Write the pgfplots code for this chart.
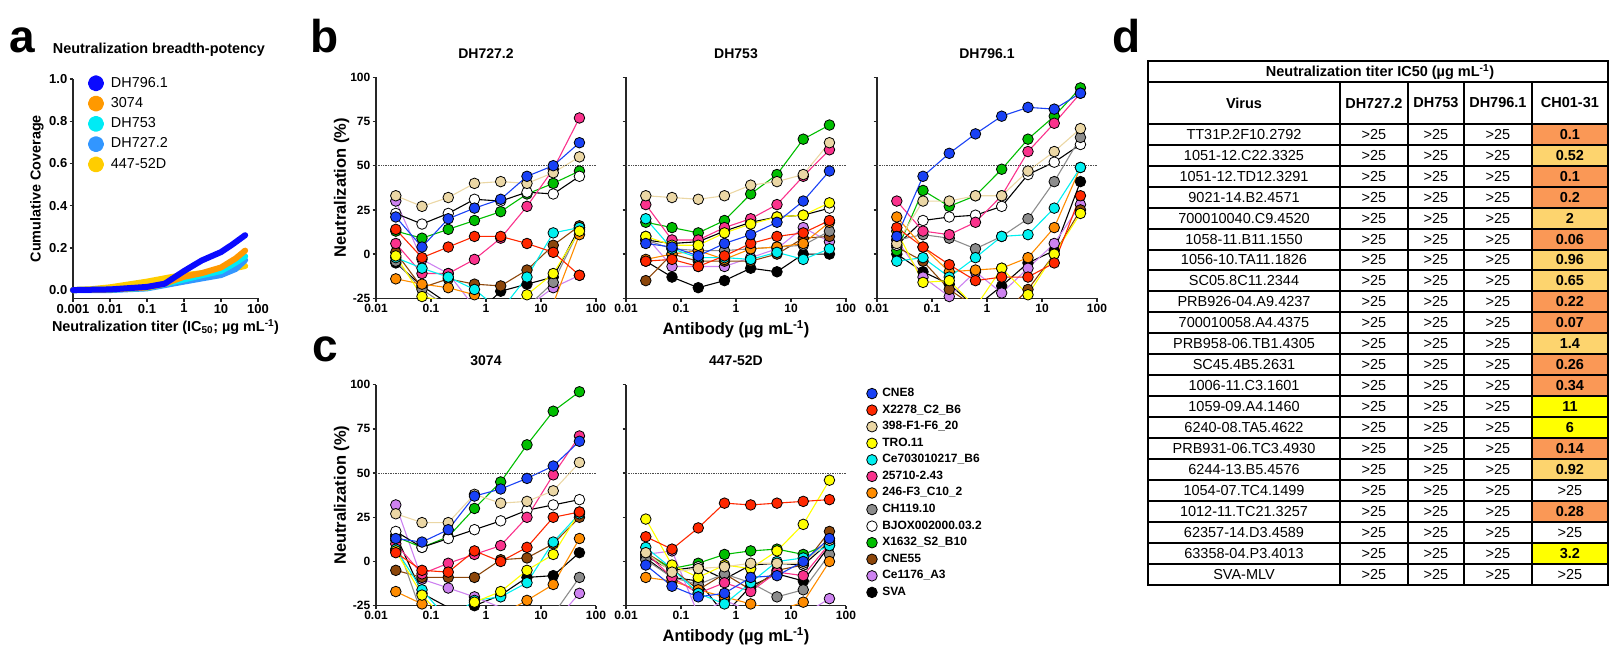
\documentclass[border=0pt]{standalone}
\usepackage{pgfplots}
\pgfplotsset{compat=1.18}
\usepackage{pgfplotstable}
\usepackage{fontspec}
\setmainfont{Liberation Sans}

\definecolor{cCNE8}{RGB}{25,65,245}
\definecolor{cRed}{RGB}{255,40,0}
\definecolor{cTan}{RGB}{235,215,165}
\definecolor{cYel}{RGB}{255,255,0}
\definecolor{cCya}{RGB}{0,240,240}
\definecolor{cPink}{RGB}{250,50,140}
\definecolor{cOra}{RGB}{255,140,0}
\definecolor{cGray}{RGB}{140,140,140}
\definecolor{cGrn}{RGB}{0,190,0}
\definecolor{cBrn}{RGB}{140,70,10}
\definecolor{cVio}{RGB}{205,130,240}
\definecolor{aBlue}{RGB}{10,10,255}
\definecolor{aOra}{RGB}{255,153,0}
\definecolor{aCya}{RGB}{0,235,245}
\definecolor{aLbl}{RGB}{50,150,255}
\definecolor{aYel}{RGB}{255,205,0}
\definecolor{tOr}{RGB}{250,152,86}
\definecolor{tLt}{RGB}{253,212,110}
\definecolor{tYe}{RGB}{255,255,0}

\pgfplotstableread{
c cne8 xtt tan tro cey pink ora gray bjox grn brn vio sva
0.0229 21 14 33 -1 -2 6 -14 -4 23 13 1 30 -5
0.0686 4 -2 27 -24 -8 -11 -17 -20 17 9 -19 -3 -18
0.206 20 4 32 -27 -13 -11 -19 -30 23 14 -14 -11 -28
0.617 26 10 40 -35 -20 -3 -23 -35 31 19 -17 -30 -35
1.85 31 10 41 -35 -32 9 -35 -35 30 24 -18 -35 -21
5.56 44 6 40 -23 -13 27 -40 -30 35 34 -9 -30 -17
16.7 50 1 46 -11 12 48 -28 -16 34 40 5 -19 -13
50 63 -12 55 13 15 77 11 14 44 47 16 -12 15
}\tbA
\pgfplotstableread{
c cne8 xtt tan tro cey pink ora gray bjox grn brn vio sva
0.0229 6 -4 33 10 20 28 -3 8 8 18 -15 10 -4
0.0686 4 -3 32 5 3 8 0 3 6 15 0 -7 -13
0.206 -1 -7 31 5 -2 8 2 2 7 12 -4 -7 -19
0.617 6 -1 33 12 -2 15 -3 2 13 19 -4 -7 -15
1.85 11 6 39 17 -3 20 3 3 18 34 -4 -2 -8
5.56 18 10 41 21 1 28 4 4 21 45 0 3 -10
16.7 30 12 45 22 -3 44 6 5 22 65 9 15 0
50 47 19 63 29 3 59 18 13 26 73 10 7 0
}\tbB
\pgfplotstableread{
c cne8 xtt tan tro cey pink ora gray bjox grn brn vio sva
0.0229 10 15 6 13 -4 30 21 8 5 2 4 8 0
0.0686 44 4 30 -16 -2 13 4 11 19 36 -4 -13 -10
0.206 57 -6 30 -15 -13 11 -10 9 21 27 -20 -24 -17
0.617 68 -15 33 -30 -2 18 -9 3 22 33 -30 -10 -30
1.85 78 -13 33 -8 10 33 -8 10 27 48 -35 -22 -18
5.56 83 -13 47 -23 11 58 -2 20 45 65 -20 -8 -5
16.7 82 -5 58 0 26 74 15 41 52 78 0 6 2
50 91 33 71 23 49 91 49 66 62 94 25 28 41
}\tbC
\pgfplotstableread{
c cne8 xtt tan tro cey pink ora gray bjox grn brn vio sva
0.0229 13 5 27 6 7 10 -17 12 17 14 -5 32 15
0.0686 11 -5 22 -19 -16 -7 -24 -30 8 8 -9 -10 -18
0.206 18 -6 22 -35 -33 -1 -30 -35 13 14 -9 -15 -26
0.617 37 6 38 -23 -22 4 -32 -40 18 30 -9 -20 -25
1.85 41 0 33 -17 -20 9 -30 -40 23 45 1 -26 -19
5.56 47 8 34 -5 -12 25 -22 -40 29 66 2 -35 -9
16.7 54 25 40 4 11 49 -13 -30 32 85 10 -35 -8
50 68 28 56 28 27 71 13 -9 35 96 25 -18 5
}\tbD
\pgfplotstableread{
c cne8 xtt tan tro cey pink ora gray bjox grn brn vio sva
0.0229 -2 14 5 24 8 5 -9 1 3 4 5 4 2
0.0686 -14 7 -6 -2 -4 -9 -11 -9 -5 -4 -4 6 -9
0.206 -20 19 -4 -9 -18 -18 -16 -13 -3 -1 -16 -30 -11
0.617 -18 33 -3 -2 -24 -12 -20 -7 -10 4 -7 -22 -30
1.85 -9 32 -1 -4 -12 -17 -24 -12 -2 6 -16 -28 -14
5.56 -8 33 -1 6 0 -6 -28 -20 -1 7 -5 -30 -7
16.7 0 34 -1 21 2 -8 -23 -16 -2 4 -2 -30 -11
50 13 35 12 46 9 10 0 4 11 10 17 -21 9
}\tbE

% drawing order (bottom to top) = reverse of legend order
\pgfplotscreateplotcyclelist{vir}{%
black,line width=1.1pt,mark=*,mark size=5.3pt,mark options={solid,draw=black,line width=0.8pt,fill=black}\\%
cVio,line width=1.1pt,mark=*,mark size=5.3pt,mark options={solid,draw=black,line width=0.8pt,fill=cVio}\\%
cBrn,line width=1.1pt,mark=*,mark size=5.3pt,mark options={solid,draw=black,line width=0.8pt,fill=cBrn}\\%
cGrn,line width=1.1pt,mark=*,mark size=5.3pt,mark options={solid,draw=black,line width=0.8pt,fill=cGrn}\\%
black,line width=1.1pt,mark=*,mark size=5.3pt,mark options={solid,draw=black,line width=0.8pt,fill=white}\\%
cGray,line width=1.1pt,mark=*,mark size=5.3pt,mark options={solid,draw=black,line width=0.8pt,fill=cGray}\\%
cOra,line width=1.1pt,mark=*,mark size=5.3pt,mark options={solid,draw=black,line width=0.8pt,fill=cOra}\\%
cPink,line width=1.1pt,mark=*,mark size=5.3pt,mark options={solid,draw=black,line width=0.8pt,fill=cPink}\\%
cCya,line width=1.1pt,mark=*,mark size=5.3pt,mark options={solid,draw=black,line width=0.8pt,fill=cCya}\\%
cYel,line width=1.1pt,mark=*,mark size=5.3pt,mark options={solid,draw=black,line width=0.8pt,fill=cYel}\\%
cTan,line width=1.1pt,mark=*,mark size=5.3pt,mark options={solid,draw=black,line width=0.8pt,fill=cTan}\\%
cRed,line width=1.1pt,mark=*,mark size=5.3pt,mark options={solid,draw=black,line width=0.8pt,fill=cRed}\\%
cCNE8,line width=1.1pt,mark=*,mark size=5.3pt,mark options={solid,draw=black,line width=0.8pt,fill=cCNE8}\\%
}

\pgfplotsset{
  dotleg/.style={legend image code/.code={\fill[##1] (5pt,0pt) circle (5pt);}},
  markleg/.style={legend image code/.code={\draw[##1, only marks] plot coordinates {(5.3pt,0pt)};}},
}

\begin{document}
\begin{tikzpicture}[x=1pt,y=1pt]
\useasboundingbox (0,0) rectangle (1609,654);

% panel letters
\node[anchor=base, font=\bfseries\fontsize{46}{46}\selectfont, inner sep=0] at (22,601) {a};
\node[anchor=base, font=\bfseries\fontsize{46}{46}\selectfont, inner sep=0] at (325,601) {b};
\node[anchor=base, font=\bfseries\fontsize{46}{46}\selectfont, inner sep=0] at (325,292) {c};
\node[anchor=base, font=\bfseries\fontsize{46}{46}\selectfont, inner sep=0] at (1127,601) {d};

% ---------------- panel a
\begin{axis}[at={(73pt,355.7pt)}, anchor=south west,
  scale only axis, width=185pt, height=219.3pt,
  xmode=log, xmin=0.001, xmax=100, ymin=-0.039, ymax=1, clip=false,
  axis lines=left, axis line style={-, line width=1.3pt, black!85},
  xtick={0.001,0.01,0.1,1,10,100}, xticklabels={0.001,0.01,0.1,1,10,100},
  ytick={0,0.2,0.4,0.6,0.8,1}, yticklabels={0.0,0.2,0.4,0.6,0.8,1.0},
  xminorticks=false,
  tick style={line width=1.3pt, black!85}, tick align=outside, major tick length=3.5pt,
  tick label style={font=\bfseries\fontsize{13}{13}\selectfont, inner sep=2pt},
  title={Neutralization breadth-potency},
  title style={at={(0.5,1)}, anchor=base, yshift=19pt, xshift=-6.5pt, font=\bfseries\fontsize{14.4}{14.4}\selectfont},
  xlabel={Neutralization titer (IC\textsubscript{50}; µg mL\textsuperscript{-1})},
  xlabel style={at={(0.5,0)}, anchor=base, yshift=-33.4pt, font=\bfseries\fontsize{14.4}{14.4}\selectfont},
  ylabel={Cumulative Coverage},
  ylabel style={at={(axis description cs:0,0.5)}, anchor=center, yshift=36pt, font=\bfseries\fontsize{14.4}{14.4}\selectfont},
  reverse legend,
  legend cell align=left,
  dotleg,
  legend style={at={(axis description cs:0.081,1.017)}, anchor=north west, draw=none, fill=none,
    inner sep=0pt, outer sep=0pt, row sep=4.3pt,
    font=\fontsize{14.4}{14.4}\selectfont,
    nodes={inner sep=0pt, text height=10.5pt, text depth=3pt},
    /tikz/every odd column/.append style={column sep=7pt}},
]
\addplot[aYel, line width=6pt, line cap=round, line join=round] coordinates {(0.001,0.0) (0.003,0.004) (0.01,0.013) (0.1,0.04) (0.5,0.063) (1,0.07) (3,0.08) (10,0.095) (25,0.105) (45,0.114)};
\addplot[aLbl, line width=6pt, line cap=round, line join=round] coordinates {(0.001,0.0) (0.01,0.0) (0.1,0.008) (1,0.04) (3,0.055) (10,0.071) (25,0.1) (45,0.142)};
\addplot[aCya, line width=6pt, line cap=round, line join=round] coordinates {(0.001,0.0) (0.01,0.003) (0.1,0.01) (1,0.05) (3,0.07) (10,0.09) (25,0.13) (45,0.16)};
\addplot[aOra, line width=6pt, line cap=round, line join=round] coordinates {(0.001,0.0) (0.01,0.003) (0.1,0.012) (0.3,0.03) (1,0.063) (3,0.08) (10,0.107) (25,0.15) (45,0.187)};
\addplot[aBlue, line width=6pt, line cap=round, line join=round] coordinates {(0.001,0.0) (0.01,0.003) (0.1,0.015) (0.3,0.03) (1,0.09) (3,0.14) (10,0.18) (20,0.215) (45,0.26)};
\legend{447-52D, DH727.2, DH753, 3074, DH796.1}
\end{axis}

% ---------------- panel b : DH727.2
\begin{axis}[at={(376pt,355.7pt)}, anchor=south west,
  scale only axis, width=220pt, height=221pt,
  xmode=log, xmin=0.01, xmax=100, ymin=-25, ymax=100,
  axis lines=left, axis line style={-, line width=1.3pt, black!85},
  xtick={0.01,0.1,1,10,100}, xticklabels={0.01,0.1,1,10,100},
  ytick={-25,0,25,50,75,100}, yticklabels={-25,0,25,50,75,100},
  xminorticks=false,
  tick style={line width=1.3pt, black!85}, tick align=outside, major tick length=3.5pt,
  tick label style={font=\bfseries\fontsize{12}{12}\selectfont, inner sep=2pt},
  title={DH727.2},
  title style={at={(0.5,1)}, anchor=base, yshift=13pt, font=\bfseries\fontsize{14}{14}\selectfont},
  ylabel={Neutralization (\%)},
  ylabel style={at={(axis description cs:0,0.5)}, anchor=center, yshift=34.3pt, font=\bfseries\fontsize{16.5}{16.5}\selectfont},
  cycle list name=vir,
]
\addplot table[x=c,y=sva]{\tbA};
\addplot table[x=c,y=vio]{\tbA};
\addplot table[x=c,y=brn]{\tbA};
\addplot table[x=c,y=grn]{\tbA};
\addplot table[x=c,y=bjox]{\tbA};
\addplot table[x=c,y=gray]{\tbA};
\addplot table[x=c,y=ora]{\tbA};
\addplot table[x=c,y=pink]{\tbA};
\addplot table[x=c,y=cey]{\tbA};
\addplot table[x=c,y=tro]{\tbA};
\addplot table[x=c,y=tan]{\tbA};
\addplot table[x=c,y=xtt]{\tbA};
\addplot table[x=c,y=cne8]{\tbA};
\addplot[black!70, densely dotted, line width=0.7pt] coordinates {(0.01,50) (100,50)};
\end{axis}

% ---------------- panel b : DH753
\begin{axis}[at={(626pt,355.7pt)}, anchor=south west,
  scale only axis, width=220pt, height=221pt,
  xmode=log, xmin=0.01, xmax=100, ymin=-25, ymax=100,
  axis lines=left, axis line style={-, line width=1.3pt, black!85},
  xtick={0.01,0.1,1,10,100}, xticklabels={0.01,0.1,1,10,100},
  ytick={-25,0,25,50,75,100}, yticklabels={,,,,,},
  xminorticks=false,
  tick style={line width=1.3pt, black!85}, tick align=outside, major tick length=3.5pt,
  tick label style={font=\bfseries\fontsize{12}{12}\selectfont, inner sep=2pt},
  title={DH753},
  title style={at={(0.5,1)}, anchor=base, yshift=13pt, font=\bfseries\fontsize{14}{14}\selectfont},
  xlabel={Antibody (µg mL\textsuperscript{-1})},
  xlabel style={at={(0.5,0)}, anchor=base, yshift=-36pt, font=\bfseries\fontsize{16.5}{16.5}\selectfont},
  cycle list name=vir,
]
\addplot table[x=c,y=sva]{\tbB};
\addplot table[x=c,y=vio]{\tbB};
\addplot table[x=c,y=brn]{\tbB};
\addplot table[x=c,y=grn]{\tbB};
\addplot table[x=c,y=bjox]{\tbB};
\addplot table[x=c,y=gray]{\tbB};
\addplot table[x=c,y=ora]{\tbB};
\addplot table[x=c,y=pink]{\tbB};
\addplot table[x=c,y=cey]{\tbB};
\addplot table[x=c,y=tro]{\tbB};
\addplot table[x=c,y=tan]{\tbB};
\addplot table[x=c,y=xtt]{\tbB};
\addplot table[x=c,y=cne8]{\tbB};
\addplot[black!70, densely dotted, line width=0.7pt] coordinates {(0.01,50) (100,50)};
\end{axis}

% ---------------- panel b : DH796.1
\begin{axis}[at={(877pt,355.7pt)}, anchor=south west,
  scale only axis, width=220pt, height=221pt,
  xmode=log, xmin=0.01, xmax=100, ymin=-25, ymax=100,
  axis lines=left, axis line style={-, line width=1.3pt, black!85},
  xtick={0.01,0.1,1,10,100}, xticklabels={0.01,0.1,1,10,100},
  ytick={-25,0,25,50,75,100}, yticklabels={,,,,,},
  xminorticks=false,
  tick style={line width=1.3pt, black!85}, tick align=outside, major tick length=3.5pt,
  tick label style={font=\bfseries\fontsize{12}{12}\selectfont, inner sep=2pt},
  title={DH796.1},
  title style={at={(0.5,1)}, anchor=base, yshift=13pt, font=\bfseries\fontsize{14}{14}\selectfont},
  cycle list name=vir,
]
\addplot table[x=c,y=sva]{\tbC};
\addplot table[x=c,y=vio]{\tbC};
\addplot table[x=c,y=brn]{\tbC};
\addplot table[x=c,y=grn]{\tbC};
\addplot table[x=c,y=bjox]{\tbC};
\addplot table[x=c,y=gray]{\tbC};
\addplot table[x=c,y=ora]{\tbC};
\addplot table[x=c,y=pink]{\tbC};
\addplot table[x=c,y=cey]{\tbC};
\addplot table[x=c,y=tro]{\tbC};
\addplot table[x=c,y=tan]{\tbC};
\addplot table[x=c,y=xtt]{\tbC};
\addplot table[x=c,y=cne8]{\tbC};
\addplot[black!70, densely dotted, line width=0.7pt] coordinates {(0.01,50) (100,50)};
\end{axis}

% ---------------- panel c : 3074
\begin{axis}[at={(376pt,48.3pt)}, anchor=south west,
  scale only axis, width=220pt, height=221pt,
  xmode=log, xmin=0.01, xmax=100, ymin=-25, ymax=100,
  axis lines=left, axis line style={-, line width=1.3pt, black!85},
  xtick={0.01,0.1,1,10,100}, xticklabels={0.01,0.1,1,10,100},
  ytick={-25,0,25,50,75,100}, yticklabels={-25,0,25,50,75,100},
  xminorticks=false,
  tick style={line width=1.3pt, black!85}, tick align=outside, major tick length=3.5pt,
  tick label style={font=\bfseries\fontsize{12}{12}\selectfont, inner sep=2pt},
  title={3074},
  title style={at={(0.5,1)}, anchor=base, yshift=13pt, font=\bfseries\fontsize{14}{14}\selectfont},
  ylabel={Neutralization (\%)},
  ylabel style={at={(axis description cs:0,0.5)}, anchor=center, yshift=34.3pt, font=\bfseries\fontsize{16.5}{16.5}\selectfont},
  cycle list name=vir,
]
\addplot table[x=c,y=sva]{\tbD};
\addplot table[x=c,y=vio]{\tbD};
\addplot table[x=c,y=brn]{\tbD};
\addplot table[x=c,y=grn]{\tbD};
\addplot table[x=c,y=bjox]{\tbD};
\addplot table[x=c,y=gray]{\tbD};
\addplot table[x=c,y=ora]{\tbD};
\addplot table[x=c,y=pink]{\tbD};
\addplot table[x=c,y=cey]{\tbD};
\addplot table[x=c,y=tro]{\tbD};
\addplot table[x=c,y=tan]{\tbD};
\addplot table[x=c,y=xtt]{\tbD};
\addplot table[x=c,y=cne8]{\tbD};
\addplot[black!70, densely dotted, line width=0.7pt] coordinates {(0.01,50) (100,50)};
\end{axis}

% ---------------- panel c : 447-52D
\begin{axis}[at={(626pt,48.3pt)}, anchor=south west,
  scale only axis, width=220pt, height=221pt,
  xmode=log, xmin=0.01, xmax=100, ymin=-25, ymax=100,
  axis lines=left, axis line style={-, line width=1.3pt, black!85},
  xtick={0.01,0.1,1,10,100}, xticklabels={0.01,0.1,1,10,100},
  ytick={-25,0,25,50,75,100}, yticklabels={,,,,,},
  xminorticks=false,
  tick style={line width=1.3pt, black!85}, tick align=outside, major tick length=3.5pt,
  tick label style={font=\bfseries\fontsize{12}{12}\selectfont, inner sep=2pt},
  title={447-52D},
  title style={at={(0.5,1)}, anchor=base, yshift=13pt, font=\bfseries\fontsize{14}{14}\selectfont},
  xlabel={Antibody (µg mL\textsuperscript{-1})},
  xlabel style={at={(0.5,0)}, anchor=base, yshift=-36pt, font=\bfseries\fontsize{16.5}{16.5}\selectfont},
  cycle list name=vir,
  reverse legend, legend cell align=left, markleg,
  legend style={at={(axis description cs:1.094,0.987)}, anchor=north west, draw=none, fill=none,
    inner sep=0pt, outer sep=0pt, row sep=4.57pt,
    font=\bfseries\fontsize{12}{12}\selectfont,
    nodes={inner sep=0pt, text height=9pt, text depth=3pt},
    /tikz/every odd column/.append style={column sep=5pt}},
]
\addplot table[x=c,y=sva]{\tbE};
\addplot table[x=c,y=vio]{\tbE};
\addplot table[x=c,y=brn]{\tbE};
\addplot table[x=c,y=grn]{\tbE};
\addplot table[x=c,y=bjox]{\tbE};
\addplot table[x=c,y=gray]{\tbE};
\addplot table[x=c,y=ora]{\tbE};
\addplot table[x=c,y=pink]{\tbE};
\addplot table[x=c,y=cey]{\tbE};
\addplot table[x=c,y=tro]{\tbE};
\addplot table[x=c,y=tan]{\tbE};
\addplot table[x=c,y=xtt]{\tbE};
\addplot table[x=c,y=cne8]{\tbE};
\addplot[forget plot, black!70, densely dotted, line width=0.7pt] coordinates {(0.01,50) (100,50)};
\legend{SVA, Ce1176\_A3, CNE55, X1632\_S2\_B10, BJOX002000.03.2, CH119.10, 246-F3\_C10\_2, 25710-2.43, Ce703010217\_B6, TRO.11, 398-F1-F6\_20, X2278\_C2\_B6, CNE8}
\end{axis}

% ---------------- panel d (table)
\def\tx{1148} \def\ta{1340} \def\tb{1407.7} \def\tc{1464} \def\td{1531.7} \def\te{1608}
\foreach \i/\cc in {1/tOr,2/tLt,3/tOr,4/tOr,5/tLt,6/tOr,7/tLt,8/tLt,9/tOr,10/tOr,11/tLt,12/tOr,13/tOr,14/tYe,15/tYe,16/tOr,17/tLt,18/white,19/tOr,20/white,21/tYe,22/white}{
  \pgfmathsetmacro{\ytop}{654-123.7-(\i-1)*20.97}
  \pgfmathsetmacro{\ybot}{654-123.7-\i*20.97}
  \fill[\cc] (\td,\ybot) rectangle (\te,\ytop);
}
\begin{scope}[line width=2pt, black]
  \draw (\tx,654-61) rectangle (\te,654-585);
  \draw (\tx,654-82.3) -- (\te,654-82.3);
  \draw (\tx,654-123.7) -- (\te,654-123.7);
  \foreach \i in {1,...,21}{
    \draw (\tx,{654-123.7-\i*20.97}) -- (\te,{654-123.7-\i*20.97});
  }
  \foreach \xx in {\ta,\tb,\tc,\td}{
    \draw (\xx,654-82.3) -- (\xx,654-585);
  }
\end{scope}
\node[font=\bfseries\fontsize{14.5}{14.5}\selectfont] at (1380,654-71.7) {Neutralization titer IC50 (µg mL\textsuperscript{-1})};
\begin{scope}[every node/.style={font=\bfseries\fontsize{14.5}{14.5}\selectfont}]
  \node at (1244,654-103) {Virus};
  \node at (1373.9,654-103) {DH727.2};
  \node at (1435.9,654-103) {DH753};
  \node at (1497.9,654-103) {DH796.1};
  \node at (1569.9,654-103) {CH01-31};
\end{scope}
\foreach \i/\nm/\v/\b in {1/TT31P.2F10.2792/0.1/1,2/1051-12.C22.3325/0.52/1,3/1051-12.TD12.3291/0.1/1,4/9021-14.B2.4571/0.2/1,5/700010040.C9.4520/2/1,6/1058-11.B11.1550/0.06/1,7/1056-10.TA11.1826/0.96/1,8/SC05.8C11.2344/0.65/1,9/PRB926-04.A9.4237/0.22/1,10/700010058.A4.4375/0.07/1,11/PRB958-06.TB1.4305/1.4/1,12/SC45.4B5.2631/0.26/1,13/1006-11.C3.1601/0.34/1,14/1059-09.A4.1460/11/1,15/6240-08.TA5.4622/6/1,16/PRB931-06.TC3.4930/0.14/1,17/6244-13.B5.4576/0.92/1,18/1054-07.TC4.1499/>25/0,19/1012-11.TC21.3257/0.28/1,20/62357-14.D3.4589/>25/0,21/63358-04.P3.4013/3.2/1,22/SVA-MLV/>25/0}{
  \pgfmathsetmacro{\yc}{654-123.7-(\i-0.5)*20.97}
  \begin{scope}[every node/.style={font=\fontsize{14.5}{14.5}\selectfont}]
  \node at (1244,\yc) {\nm};
  \node at (1373.9,\yc) {>25};
  \node at (1435.9,\yc) {>25};
  \node at (1497.9,\yc) {>25};
  \ifnum\b=1
    \node[font=\bfseries\fontsize{14.5}{14.5}\selectfont] at (1569.9,\yc) {\v};
  \else
    \node at (1569.9,\yc) {\v};
  \fi
  \end{scope}
}
\end{tikzpicture}
\end{document}
